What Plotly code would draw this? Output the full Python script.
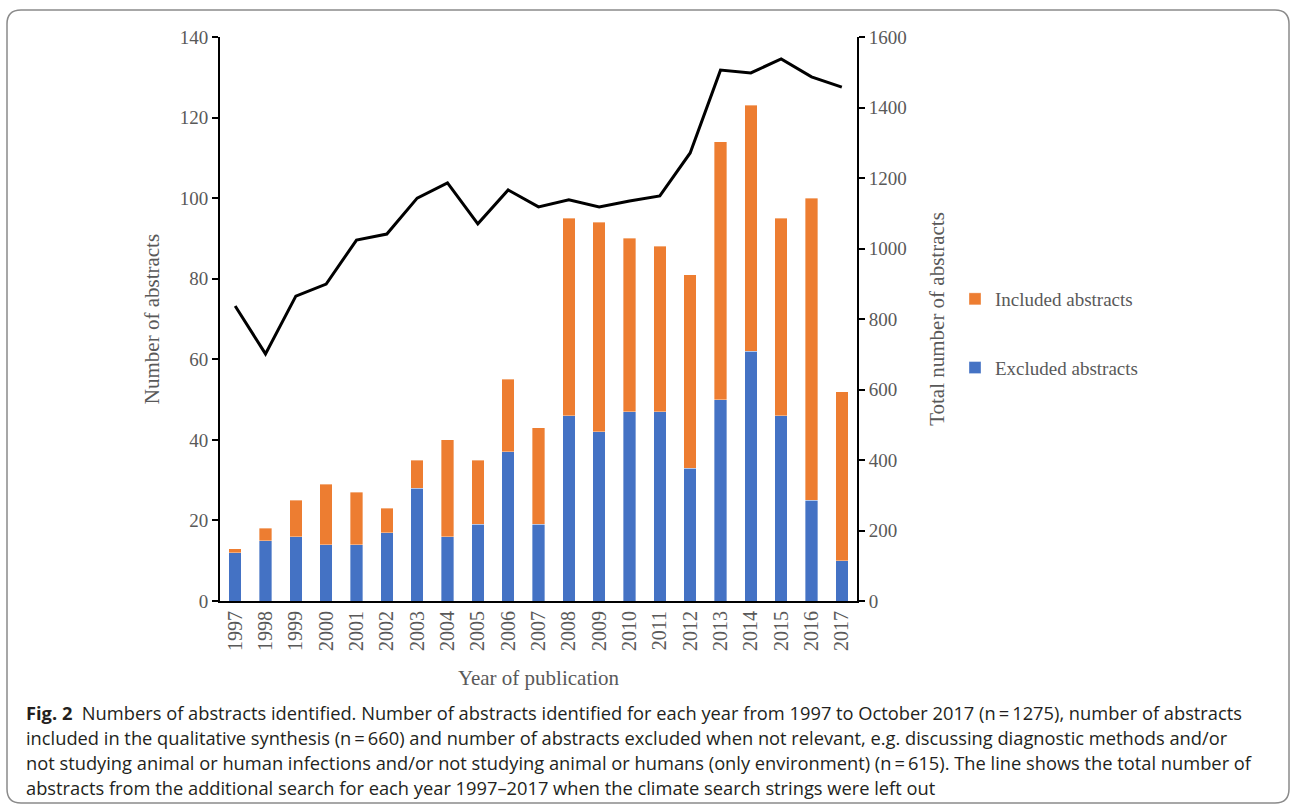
import plotly.graph_objects as go

years = [str(y) for y in range(1997, 2018)]
excluded = [12, 15, 16, 14, 14, 17, 28, 16, 19, 37, 19, 46, 42, 47, 47, 33, 50, 62, 46, 25, 10]
included = [1, 3, 9, 15, 13, 6, 7, 24, 16, 18, 24, 49, 52, 43, 41, 48, 64, 61, 49, 75, 42]
total_search = [837, 701, 865, 899, 1024, 1041, 1143, 1186, 1070, 1166, 1118,
                1138, 1118, 1135, 1149, 1271, 1506, 1498, 1538, 1487, 1458]

W, H = 1290, 809
L, R, T, B = 220, 857, 37, 601

def px(x):
    return (x - L) / (R - L)

def py(y):
    return (B - y) / (B - T)

serif = "Liberation Serif, Times New Roman, serif"
grey = "#595959"

fig = go.Figure()
fig.add_trace(go.Bar(x=years, y=excluded, name="Excluded abstracts", marker_color="#4472C4",
                     marker_line=dict(color="rgba(255,255,255,0.6)", width=0.6),
                     width=0.41, legendgroup="exc", legendrank=2, yaxis="y"))
fig.add_trace(go.Bar(x=years, y=included, name="Included abstracts", marker_color="#ED7D31",
                     marker_line=dict(color="rgba(255,255,255,0.6)", width=0.6),
                     width=0.41, legendgroup="inc", legendrank=1, yaxis="y"))
fig.add_trace(go.Scatter(x=years, y=total_search, mode="lines", line=dict(color="black", width=3),
                         showlegend=False, yaxis="y2"))

# rounded border box
x0, y0, x1, y1, r = 7, 10, 1289, 803, 14
path = (f"M {px(x0+r)},{py(y0)} L {px(x1-r)},{py(y0)} Q {px(x1)},{py(y0)} {px(x1)},{py(y0+r)} "
        f"L {px(x1)},{py(y1-r)} Q {px(x1)},{py(y1)} {px(x1-r)},{py(y1)} "
        f"L {px(x0+r)},{py(y1)} Q {px(x0)},{py(y1)} {px(x0)},{py(y1-r)} "
        f"L {px(x0)},{py(y0+r)} Q {px(x0)},{py(y0)} {px(x0+r)},{py(y0)} Z")

caption_lines = [
    "<b>Fig. 2</b>  Numbers of abstracts identified. Number of abstracts identified for each year from 1997 to October 2017 (n\u2009=\u20091275), number of abstracts",
    "included in the qualitative synthesis (n\u2009=\u2009660) and number of abstracts excluded when not relevant, e.g. discussing diagnostic methods and/or",
    "not studying animal or human infections and/or not studying animal or humans (only environment) (n\u2009=\u2009615). The line shows the total number of",
    "abstracts from the additional search for each year 1997\u20132017 when the climate search strings were left out",
]
cap_y = [712, 737, 762, 787]
annotations = []
for txt, yy in zip(caption_lines, cap_y):
    annotations.append(dict(text=txt, xref="paper", yref="paper", x=px(24), y=py(yy),
                            xanchor="left", yanchor="middle", showarrow=False,
                            font=dict(family="Open Sans, Noto Sans, sans-serif", size=18.3, color="#231f20")))

fig.update_layout(
    width=W, height=H,
    margin=dict(l=L, r=W - R, t=T, b=H - B, pad=0),
    paper_bgcolor="white", plot_bgcolor="white",
    barmode="stack", bargap=0.59,
    font=dict(family=serif, color=grey, size=19),
    xaxis=dict(type="category", tickangle=-90, showline=True, linecolor="black", linewidth=2,
               ticks="", tickfont=dict(size=20, color=grey),
               title=dict(text="Year of publication", font=dict(size=21, color=grey), standoff=20)),
    yaxis=dict(range=[0, 140], dtick=20, showgrid=False, zeroline=False, showline=True,
               linecolor="black", linewidth=2, ticks="outside", ticklen=6, tickwidth=2,
               tickcolor="black", tickfont=dict(size=19, color=grey),
               title=dict(text="Number of abstracts", font=dict(size=21, color=grey), standoff=14)),
    yaxis2=dict(range=[0, 1600], dtick=200, overlaying="y", side="right", showgrid=False,
                zeroline=False, showline=True, linecolor="black", linewidth=2, ticks="outside",
                ticklen=6, tickwidth=2, tickcolor="black", tickfont=dict(size=19, color=grey),
                title=dict(text="Total number of abstracts", font=dict(size=21, color=grey), standoff=24)),
    legend=dict(x=px(955), y=py(280), xanchor="left", yanchor="top", traceorder="grouped",
                tracegroupgap=41, font=dict(size=19, color=grey), bgcolor="rgba(0,0,0,0)"),
    shapes=[dict(type="path", path=path, xref="paper", yref="paper",
                 line=dict(color="#8a8a8a", width=1.5), layer="below")],
    annotations=annotations,
)

fig.write_html("out.html", config={"displayModeBar": False},
               post_script="document.body.style.margin='0';")
